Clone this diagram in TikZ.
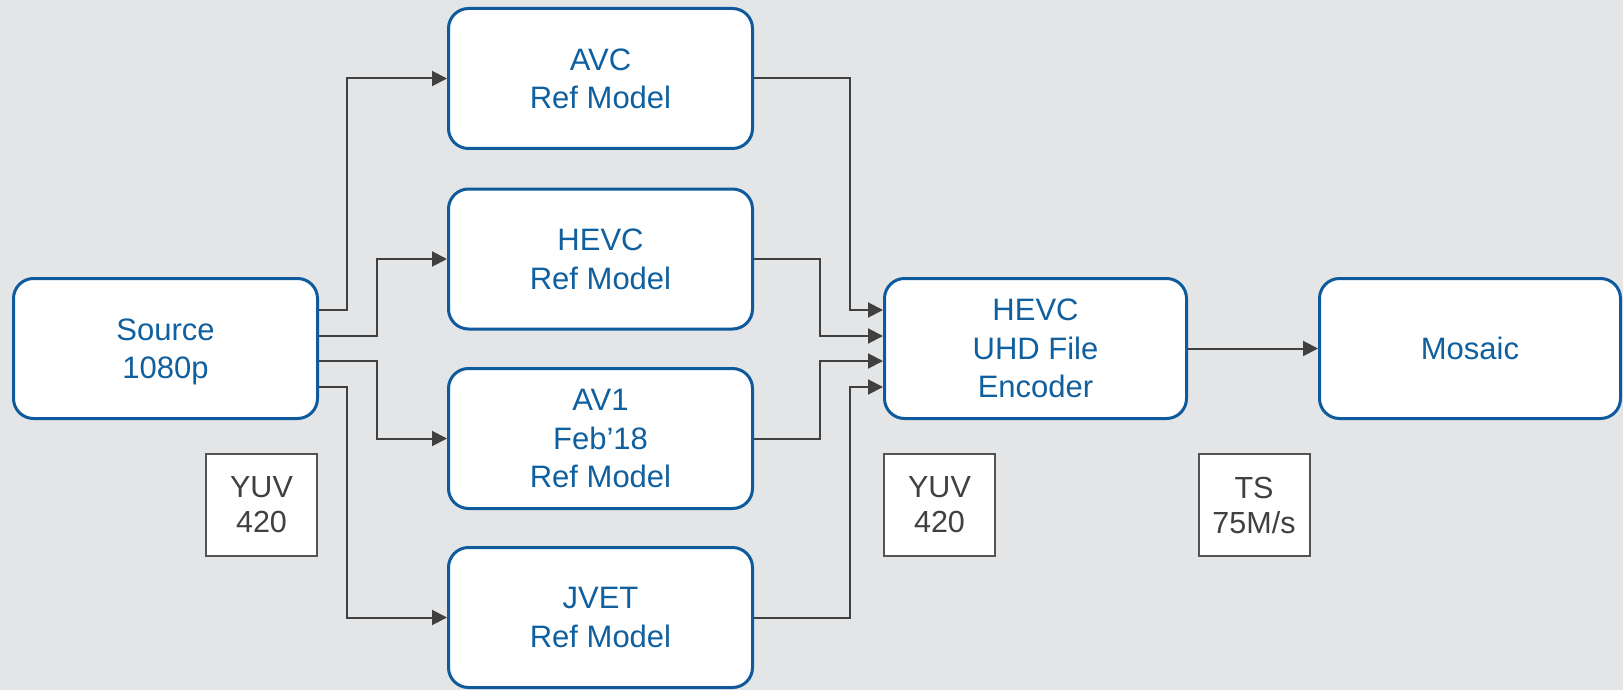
\documentclass[tikz,border=0pt]{standalone}
\usepackage{fontspec}
\setmainfont{Liberation Sans}
\usetikzlibrary{arrows.meta}
\definecolor{bg}{HTML}{E4E5E7}
\definecolor{boxblue}{HTML}{0E5A9C}
\definecolor{txtblue}{HTML}{10609F}
\definecolor{conngray}{HTML}{404040}
\definecolor{lblgray}{HTML}{404040}
\tikzset{
  block/.style={draw=boxblue, line width=3pt, fill=white, rounded corners=20pt,
    minimum width=304pt, minimum height=140pt, inner sep=0pt, align=center,
    text depth=-3pt, text=txtblue, font=\fontsize{31}{38.5}\selectfont},
  lbl/.style={draw=lblgray!90, line width=2pt, fill=white, minimum width=111pt,
    minimum height=102pt, inner sep=0pt, align=center, text depth=0pt,
    text=lblgray, font=\fontsize{30.5}{35}\selectfont},
  conn/.style={draw=conngray, line width=2pt, -{Triangle[length=15pt,width=15pt]}},
}
\begin{document}
\begin{tikzpicture}[x=1pt,y=-1pt]
\fill[bg] (0,0) rectangle (1623,690);
\useasboundingbox (0,0) rectangle (1623,690);

\node[block] (Src) at (165.5,348.5) {Source\\1080p};
\node[block] (AVC) at (600.5,78.5) {AVC\\Ref Model};
\node[block] (HEVC) at (600.5,259) {HEVC\\Ref Model};
\node[block] (AV1) at (600.5,438.5) {AV1\\Feb’18\\Ref Model};
\node[block] (JVET) at (600.5,617.5) {JVET\\Ref Model};
\node[block, minimum width=302pt] (Enc) at (1035.5,348.5) {HEVC\\UHD File\\Encoder};
\node[block, minimum width=301pt] (Mos) at (1470,348.5) {Mosaic};

\node[lbl] (L1) at (261.5,505) {YUV\\420};
\node[lbl] (L2) at (939.5,505) {YUV\\420};
\node[lbl] (L3) at (1254,505) {TS\\75M/s};

\coordinate (y1) at (0,310);
\coordinate (y2) at (0,336);
\coordinate (y3) at (0,361);
\coordinate (y4) at (0,387);

% source to codecs
\draw[conn] (Src.east |- y1) -- (347,310) |- (AVC.west);
\draw[conn] (Src.east |- y2) -- (377,336) |- (HEVC.west);
\draw[conn] (Src.east |- y3) -- (377,361) |- (AV1.west);
\draw[conn] (Src.east |- y4) -- (347,387) |- (JVET.west);

% codecs to encoder
\draw[conn] (AVC.east) -- (850,78.5) |- (Enc.west |- y1);
\draw[conn] (HEVC.east) -- (820,259) |- (Enc.west |- y2);
\draw[conn] (AV1.east) -- (820,438.5) |- (Enc.west |- y3);
\draw[conn] (JVET.east) -- (850,617.5) |- (Enc.west |- y4);

% encoder to mosaic
\draw[conn] (Enc) -- (Mos);
\end{tikzpicture}
\end{document}
